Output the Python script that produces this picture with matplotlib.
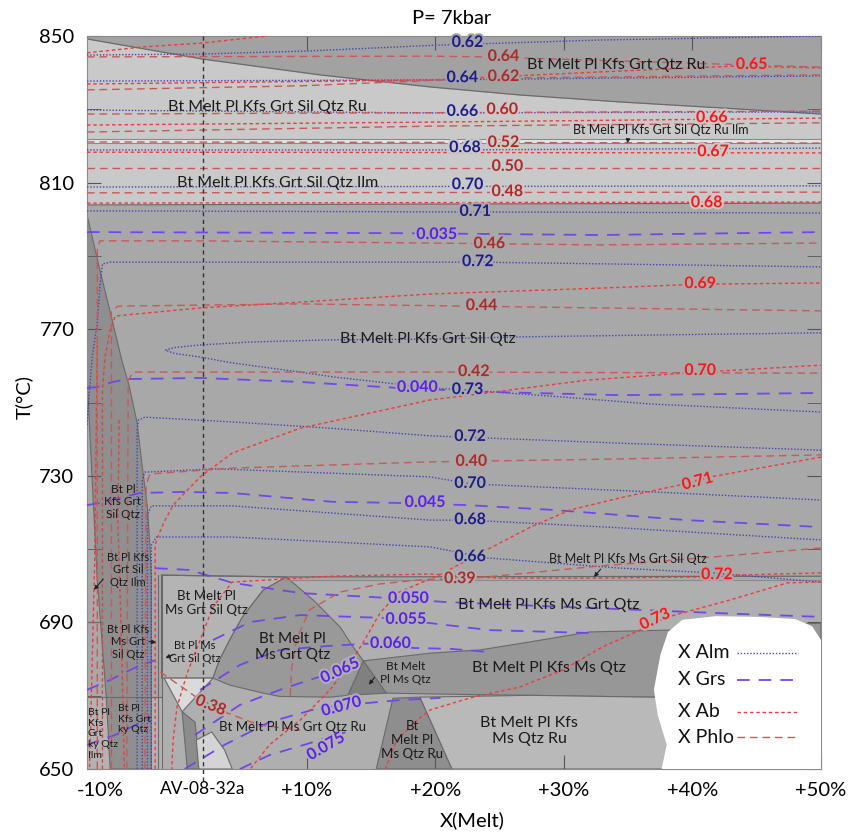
import matplotlib.pyplot as plt
import matplotlib.patheffects as pe
import numpy as np

plt.rcParams['font.family'] = ['Lato', 'DejaVu Sans']

# axis values (x = melt %, T in degC)
T_ticks = [650, 690, 730, 770, 810, 850]
T_minor = [670, 710, 750, 790, 830]
melt_ticks = [10, 20, 30, 40, 50]
melt_labels = ['+10%', '+20%', '+30%', '+40%', '+50%']
extra_ticks = [-6.1, 1.9]
extra_labels = ['-10%', 'AV-08-32a']
sample_x = 1.9

# field boundaries
top_bnd_x = [-7.1, 1.9, 11.0, 19.6, 26.6, 34.4, 42.1, 50.0]
top_bnd_T = [849.2, 843.7, 839.4, 836.1, 833.9, 832.0, 830.4, 828.7]
ru_ilm_T = [821.9, 820.7]
ilm_bottom_T = [803.9, 804.4]

lens_x = [-7.1, -6.1, -5.2, -4.4, -3.8, -3.2, -2.8, -2.4, -2.2, -2.1, -2.1, -2.1, -5.3, -5.6, -6.3, -6.7, -7.0, -7.1]
lens_T = [801.2, 786.2, 773.3, 761.6, 754.2, 744.4, 732.4, 721.5, 710.6, 702.9, 669.6, 650, 650, 669.6, 701.6, 728.9, 750.7, 756.1]
ms_sil_x = [-1.3, 8.4, 6.6, 5.0, 4.0, 3.2, 2.7, -1.3]
ms_sil_T = [702.9, 702.4, 698.8, 691.5, 685.2, 679.7, 674.8, 674.8]
dome_x = [8.4, 6.6, 5.0, 4.0, 3.2, 2.7, 4.0, 6.6, 7.9, 11.8, 13.2, 14.4, 13.6, 12.6, 10.5]
dome_T = [702.4, 698.8, 691.5, 685.2, 679.7, 674.8, 672.9, 670.7, 669.8, 669.6, 670.1, 679.5, 683.3, 688.7, 696.1]
tri_x = [14.4, 16.2, 13.2]
tri_T = [679.5, 670.7, 670.1]
msq_x = [14.4, 19.6, 23.5, 27.4, 32.0, 38.2, 50.0, 50.0, 36.7, 27.4, 21.1, 16.2]
msq_T = [679.5, 681.6, 682.5, 684.7, 687.4, 687.9, 689.8, 670.1, 669.6, 670.1, 670.4, 670.7]
msqru_x = [16.7, 18.8, 21.3, 15.4]
msqru_T = [669.3, 669.6, 650, 650]
kmsqru_x = [18.8, 27.4, 36.7, 50, 50, 21.3]
kmsqru_T = [669.6, 670.1, 669.6, 670.1, 650, 650]
light_tri_x = [-1.1, 2.7, 0.3]
light_tri_T = [674.8, 674.8, 665.6]
sliver_x = [0.3, 1.3, 1.7, 0.7]
sliver_T = [665.6, 662.8, 650, 650]
light_bot_x = [1.4, 2.6, 3.6, 4.2, 1.6]
light_bot_T = [657.9, 660.1, 655.2, 650, 650]
legend_x = [37.6, 38.0, 37.3, 37.0, 37.5, 38.1, 39.2, 41.8, 45.2, 48.0, 49.3, 50.0, 50.0]
legend_T = [650, 656.6, 664.7, 671.6, 681.1, 687.4, 690.7, 691.7, 691.5, 690.9, 689.0, 685.2, 650]

# isopleths: X Alm
alm_lines = [
    ([-7.1, 1.9, 10.0, 20.1, 32.8, 50.0], [844.8, 845.1, 845.9, 847.5, 848.9, 850.0]),
    ([-7.1, 19.6, 50.0], [837.7, 838.0, 839.1]),
    ([-7.1, 19.6, 50.0], [829.8, 829.0, 829.3]),
    ([-7.1, 19.6, 50.0], [818.9, 818.9, 819.4]),
    ([-7.1, 50.0], [808.8, 809.1]),
    ([-7.1, 50.0], [802.3, 801.7]),
    ([-7.1, -6.9, -6.7, -6.3, -6.1, -5.9, -5.3, 9.5, 23.3, 50.0],
     [743.9, 753.4, 762.4, 771.7, 781.5, 787.8, 788.3, 788.3, 788.3, 787.0]),
    ([50.0, 36.7, 26.6, 19.6, 12.0, 5.6, 1.7, -0.3, -1.0, -0.3, 1.7, 4.2, 9.5, 12.0, 19.6, 22.5, 29.9, 36.7, 50.0],
     [769.0, 768.4, 767.9, 767.3, 767.1, 766.5, 765.7, 765.0, 764.3, 763.4, 762.4, 760.8, 758.3, 757.0, 754.0, 753.4, 751.5, 749.6, 747.4]),
    ([-3.2, -3.2, -3.1, -2.6, 4.2, 11.8, 19.6, 34.4, 50.0], [650, 742.5, 745.2, 746.0, 744.7, 743.0, 740.9, 738.9, 737.0]),
    ([-2.8, -2.8, -2.6, 3.0, 19.6, 22.7, 36.9, 50.0], [650, 728.9, 731.0, 731.9, 729.7, 727.8, 725.6, 723.4]),
    ([-2.4, -2.4, -2.1, 4.2, 19.6, 22.7, 34.4, 50.0], [650, 719.3, 721.8, 721.8, 717.9, 717.9, 715.8, 712.5]),
    ([-2.1, -2.1, -1.7, 4.2, 19.6, 24.0, 34.4, 41.6, 50.0], [650, 711.1, 713.3, 713.3, 710.6, 707.6, 704.8, 703.5, 701.0]),
]
alm_vals = ['0.62', '0.64', '0.66', '0.68', '0.70', '0.71', '0.72', '0.73', '0.72', '0.70', '0.68', '0.66']
alm_lx = [22.5, 22.1, 22.1, 22.3, 22.5, 23.1, 23.3, 22.5, 22.7, 22.7, 22.7, 22.7]
alm_lT = [848.1, 838.5, 829.3, 819.4, 809.3, 802.0, 788.3, 753.4, 740.6, 727.8, 717.9, 707.8]

# X Grs
grs_lines = [
    ([-7.1, 17.2, 32.8, 50], [796.5, 796.2, 795.7, 796.5]),
    ([-7.1, -6.3, -5.1, -3.9, 1.7, 9.5, 17.0, 24.0, 34.4, 50], [754.0, 754.2, 755.6, 756.4, 756.7, 755.6, 754.0, 752.9, 752.0, 752.6]),
    ([-7.1, -6.1, -3.0, 0.4, 4.2, 12.0, 17.0, 22.5, 29.1, 39.6, 50],
     [722.0, 722.6, 725.3, 725.6, 725.3, 722.9, 722.6, 722.0, 720.7, 717.9, 716.0]),
    ([-1.8, 0.9, 4.2, 9.5, 16.2, 20.6, 28.1, 35.9, 43.7, 50], [704.8, 704.3, 700.8, 698.0, 696.7, 695.6, 694.5, 693.4, 692.3, 691.5]),
    ([2.7, 5.6, 9.5, 16.1, 20.1, 24.2, 32.0], [685.2, 690.1, 692.0, 691.2, 689.6, 687.9, 687.1]),
    ([1.7, 4.8, 7.9, 11.8, 14.7, 18.4, 21.1, 23.9], [671.6, 678.4, 682.5, 683.6, 684.2, 683.0, 682.8, 682.0]),
    ([1.3, 4.8, 8.3, 11.2, 14.0], [659.3, 667.5, 672.1, 675.4, 679.5]),
    ([0.5, 3.6, 7.1, 11.0, 14.7, 17.2, 20.4], [650, 656.6, 662.8, 666.7, 668.0, 668.8, 669.4]),
    ([4.8, 7.1, 9.8, 13.0], [650, 653.8, 656.6, 660.0]),
    ([-7.1, -5.3, -3.4, -1.8], [671.6, 674.3, 677.6, 679.7]),
    ([-7.1, -4.9, -2.2], [656.6, 659.3, 663.9]),
]
grs_vals = ['0.035', '0.040', '0.045', '0.050', '0.055', '0.060', '0.065', '0.070', '0.075']
grs_lx = [20.1, 18.6, 19.2, 17.9, 17.7, 16.5, 12.6, 12.7, 11.5]
grs_lT = [795.7, 754.0, 722.6, 696.4, 690.7, 684.1, 676.7, 666.9, 656.0]
grs_rot = [0, 0, 0, 0, 0, 0, 25, 15, 30]

# X Ab
ab_lines = [
    ([-7.1, -2.8, 1.9, 6.9], [845.4, 847.0, 848.1, 850]),
    ([-7.1, 19.6, 32.8, 43.3, 50], [836.9, 838.0, 840.2, 841.8, 841.3]),
    ([-7.1, 19.6, 50], [825.7, 826.5, 827.6]),
    ([-7.1, 50], [818.3, 818.1]),
    ([-7.1, 50], [804.4, 804.7]),
    ([-5.9, -5.9, -5.7, -5.3, -4.9, 1.7, 9.5, 19.6, 32.8, 40.6, 50],
     [650, 753.4, 762.4, 769.8, 773.6, 775.8, 777.4, 779.6, 781.2, 782.3, 782.6]),
    ([-1.8, -1.8, -1.6, -1.1, -0.4, 1.7, 4.2, 9.5, 19.6, 24.0, 31.8, 39.3, 50],
     [650, 711.1, 713.3, 717.4, 722.0, 729.7, 736.2, 743.0, 750.7, 752.6, 756.1, 758.0, 760.2]),
    ([50, 41.4, 39.0, 34.4, 30.5, 27.4, 23.5, 20.3, 17.2, 15.7, 14.5, 13.3, 11.8, 9.5, 7.1, 5.6],
     [735.1, 729.7, 727.5, 724.0, 720.7, 716.0, 708.9, 702.9, 698.3, 692.6, 685.2, 678.4, 671.6, 663.4, 656.6, 650]),
    ([50, 43.2, 40.6, 32.8, 25.0, 19.6, 11.8, 4.2, 2.7, 1.7, 0.7, -0.1, -0.4, -0.5],
     [703.5, 702.9, 702.4, 702.1, 702.1, 703.2, 702.6, 701.0, 694.2, 685.2, 676.2, 666.9, 657.9, 650]),
    ([50, 47.4, 42.9, 38.1, 35.9, 33.0, 29.9, 26.6, 22.7, 19.6, 18.6, 17.0, 16.1],
     [701.0, 700.8, 696.1, 691.5, 687.9, 683.3, 677.0, 672.4, 669.4, 666.1, 663.4, 657.9, 650]),
    ([-6.3, -6.4, -6.5, -6.9], [765.7, 737.0, 707.0, 650]),
    ([-4.6, -4.7, -4.4, -4.2], [745.2, 717.9, 682.5, 650]),
]
ab_vals = ['0.65', '0.66', '0.67', '0.68', '0.69', '0.70', '0.71', '0.72', '0.73']
ab_lx = [44.6, 41.5, 41.6, 41.1, 40.6, 40.6, 40.4, 41.9, 37.1]
ab_lT = [842.1, 827.6, 818.3, 804.4, 782.3, 758.6, 728.3, 702.9, 690.7]
ab_rot = [0, 0, 0, 0, 0, 0, 15, 0, 25]

# X Phlo
phlo_lines = [
    ([-7.1, 19.6, 24.0, 26.6, 50], [844.3, 844.5, 844.3, 844.0, 841.5]),
    ([-7.1, 9.5, 24.0, 50], [835.3, 836.4, 838.5, 839.4]),
    ([-7.1, 50], [828.7, 829.5]),
    ([-7.1, 19.6, 50], [823.8, 825.4, 826.3]),
    ([-7.1, 50], [821.1, 820.8]),
    ([-7.1, 50], [814.0, 814.0]),
    ([-7.1, 50], [807.2, 807.4]),
    ([-6.3, -6.3, -6.1, 1.7, 19.6, 32.8, 50], [650, 791.6, 794.1, 794.1, 793.5, 793.0, 793.5]),
    ([-5.2, -5.2, -4.7, 9.5, 22.5, 32.8, 50], [650, 774.7, 776.3, 776.9, 776.3, 775.8, 775.0]),
    ([-4.0, -3.9, -3.5, 19.6, 50], [650, 756.1, 758.3, 758.3, 758.0]),
    ([-2.6, -2.5, -2.2, 4.2, 19.6, 34.4, 50], [650, 727.5, 730.5, 732.1, 733.8, 734.6, 735.7]),
    ([50, 41.4, 32.8, 23.1, 18.8, 15.7, 12.6, 10.2, 9.2, 8.8, 8.7],
     [710.3, 707.8, 705.4, 702.1, 701.6, 700.5, 698.3, 693.4, 685.2, 677.0, 668.8]),
    ([-1.4, 1.4, 3.8, 6.3, 9.5], [676.5, 669.6, 665.3, 662.0, 660.6]),
]
phlo_vals = ['0.64', '0.62', '0.60', '0.52', '0.50', '0.48', '0.46', '0.44', '0.42', '0.40', '0.39', '0.38']
phlo_lx = [25.3, 25.3, 25.2, 25.3, 25.6, 25.6, 24.2, 23.6, 23.0, 22.8, 21.9, 2.5]
phlo_lT = [844.3, 838.8, 829.8, 820.8, 814.3, 807.4, 793.2, 776.3, 758.3, 733.8, 701.8, 667.2]
phlo_rot = [0, 0, 0, 0, 0, 0, 0, 0, 0, 0, 0, -22]

# field names
field_names = ['Bt Melt Pl Kfs Grt Qtz Ru', 'Bt Melt Pl Kfs Grt Sil Qtz Ru', 'Bt Melt Pl Kfs Grt Sil Qtz Ru Ilm',
               'Bt Melt Pl Kfs Grt Sil Qtz Ilm', 'Bt Melt Pl Kfs Grt Sil Qtz', 'Bt Pl\nKfs Grt\nSil Qtz',
               'Bt Pl Kfs\nGrt Sil\nQtz Ilm', 'Bt Pl Kfs\nMs Grt\nSil Qtz', 'Bt Pl Ms\nGrt Sil Qtz',
               'Bt Melt Pl\nMs Grt Sil Qtz', 'Bt Melt Pl\nMs Grt Qtz', 'Bt Melt\nPl Ms Qtz',
               'Bt Melt Pl Ms Grt Qtz Ru', 'Bt\nMelt Pl\nMs Qtz Ru', 'Bt Melt Pl Kfs Ms Grt Sil Qtz',
               'Bt Melt Pl Kfs Ms Grt Qtz', 'Bt Melt Pl Kfs Ms Qtz', 'Bt Melt Pl Kfs\nMs Qtz Ru']
field_x = [34.1, 6.9, 37.5, 7.7, 19.4, -4.3, -3.9, -3.9, 1.3, 2.2, 8.9, 17.7, 8.9, 18.2, 35.0, 28.8, 28.8, 27.3]
field_T = [842.1, 830.6, 824.4, 809.9, 767.3, 722.9, 704.3, 684.7, 681.9, 695.3, 683.3, 676.2, 661.5, 657.9, 707.3, 694.7, 677.6, 660.4]
field_size = [11.5, 11.5, 9, 11.5, 11.5, 8.5, 8, 8, 8, 9.5, 11, 8.5, 9.5, 9.5, 9, 11.5, 11.5, 11.5]
left_names = ['Bt Pl\nKfs\nGrt\nky Qtz\nIlm', 'Bt Pl\nKfs Grt\nky Qtz']
left_x = [-7.05, -4.7]
left_T = [659.6, 663.6]
arrow_tail = [(35.0, 822.2), (-5.7, 702.4), (-2.5, 684.9), (-0.1, 681.6), (15.4, 675.6), (33.0, 705.1)]
arrow_head = [(34.9, 820.0), (-6.7, 698.3), (-1.5, 684.4), (-1.2, 680.0), (14.7, 672.4), (32.2, 701.8)]

legend_names = ['X Alm', 'X Grs', 'X Ab', 'X Phlo']
legend_T_pos = [681.7, 674.3, 665.6, 658.7]

C_ALM, C_GRS, C_AB, C_PHLO = '#4545b5', '#7048e6', '#f03a3a', '#c65a5a'
L_ALM, L_GRS, L_AB, L_PHLO = '#1c1c8c', '#5a20ee', '#ff1515', '#b02828'
LS_ALM, LS_GRS, LS_AB, LS_PHLO = (0, (1, 1.3)), (0, (7, 5)), (0, (2.5, 2)), (0, (5.5, 3.5))

fig = plt.figure(figsize=(8.53, 8.33), dpi=100)
ax = fig.add_axes([87 / 853, 64 / 833, 734 / 853, 733 / 833])
ax.set_xlim(-7.1, 50)
ax.set_ylim(650, 850)
ax.set_facecolor('#a8a8a8')

edge = '#6a6a6a'
# upper fields
ax.fill_between(top_bnd_x, top_bnd_T, 850, color='#a2a2a2', lw=0, zorder=1)
ax.fill_between(top_bnd_x, ru_ilm_T[0], top_bnd_T, color='#c9c9c9', lw=0, zorder=1)
ax.fill_between([-7.1, 50], ru_ilm_T[1], ru_ilm_T[0], color='#e6e6e6', lw=0, zorder=1)
ax.fill_between([-7.1, 50], ilm_bottom_T, ru_ilm_T[1], color='#c9c9c9', lw=0, zorder=1)
ax.plot(top_bnd_x, top_bnd_T, color=edge, lw=0.9, zorder=2)
for t in ru_ilm_T:
    ax.plot([-7.1, 50], [t, t], color='#8a8a8a', lw=0.8, zorder=2)
ax.plot([-7.1, 50], ilm_bottom_T, color=edge, lw=0.9, zorder=2)

# lower fields
ax.fill([-1.3, 50, 50, -1.3], [701.6, 701.6, 650, 650], color='#afafaf', lw=0, zorder=1)
ax.fill([-7.1, -1.3, -1.3, -7.1], [669.6, 669.6, 650, 650], color='#b3b3b3', lw=0, zorder=1)
polys = [(lens_x, lens_T, '#8f8f8f'), (ms_sil_x, ms_sil_T, '#b4b4b4'), (dome_x, dome_T, '#999999'),
         (tri_x, tri_T, '#808080'), (msq_x, msq_T, '#979797'), (msqru_x, msqru_T, '#8e8e8e'),
         (kmsqru_x, kmsqru_T, '#b9b9b9'), (light_tri_x, light_tri_T, '#dadada'),
         (sliver_x, sliver_T, '#8c8c8c'), (light_bot_x, light_bot_T, '#d4d4d4')]
for xs, ts, c in polys:
    ax.fill(xs, ts, facecolor=c, edgecolor=edge, lw=0.8, zorder=1.5)
ax.plot([-1.3, 8.4, 50], [702.9, 702.4, 702.6], color=edge, lw=0.9, zorder=2)
ax.plot([8.4, 50], [701.6, 701.6], color='#8a8a8a', lw=0.8, zorder=2)
ax.plot([-1.3, -1.3], [702.9, 650], color=edge, lw=0.8, zorder=2)
ax.plot([-1.6, -1.6], [702.9, 650], color=edge, lw=0.8, zorder=2)
ax.plot([-7.1, -1.3], [669.6, 669.6], color=edge, lw=0.8, zorder=2)
ax.plot([-7.1, -6.1], [690.1, 690.1], color=edge, lw=0.8, zorder=2)

# isopleths
for lines, c, ls, lw in [(alm_lines, C_ALM, LS_ALM, 1.0), (grs_lines, C_GRS, LS_GRS, 1.3),
                         (ab_lines, C_AB, LS_AB, 1.0), (phlo_lines, C_PHLO, LS_PHLO, 1.0)]:
    for xs, ts in lines:
        ax.plot(xs, ts, color=c, ls=ls, lw=lw, zorder=3)

ax.plot([sample_x, sample_x], [850, 646.2], color='#333333', ls=(0, (3, 2.5)), lw=1, zorder=4, clip_on=False)


def bg_at(x, t):
    if t > np.interp(x, top_bnd_x, top_bnd_T):
        return '#a2a2a2'
    if t > 804:
        return '#c9c9c9'
    if t > 702.5:
        return '#a8a8a8'
    return '#afafaf'


def put(x, t, s, color, rot=0):
    ax.text(x, t, s, color=color, fontsize=11.5, fontweight='bold', ha='center', va='center',
            rotation=rot, zorder=5, path_effects=[pe.withStroke(linewidth=3, foreground=bg_at(x, t))])


for s, x, t in zip(alm_vals, alm_lx, alm_lT):
    put(x, t, s, L_ALM)
for s, x, t, r in zip(grs_vals, grs_lx, grs_lT, grs_rot):
    put(x, t, s, L_GRS, r)
for s, x, t, r in zip(ab_vals, ab_lx, ab_lT, ab_rot):
    put(x, t, s, L_AB, r)
for s, x, t, r in zip(phlo_vals, phlo_lx, phlo_lT, phlo_rot):
    put(x, t, s, L_PHLO, r)

for s, x, t, fs in zip(field_names, field_x, field_T, field_size):
    ax.text(x, t, s, fontsize=fs, color='#1a1a1a', ha='center', va='center', linespacing=1.2, zorder=5)
for s, x, t in zip(left_names, left_x, left_T):
    ax.text(x, t, s, fontsize=7.5, color='#1a1a1a', ha='left', va='center', linespacing=1.25, zorder=5)
for a, b in zip(arrow_tail, arrow_head):
    ax.annotate('', xy=b, xytext=a, zorder=5,
                arrowprops=dict(arrowstyle='-|>', color='#222222', lw=0.8, mutation_scale=6))

# legend
ax.fill(legend_x, legend_T, facecolor='white', edgecolor='none', zorder=6)
for s, t, c, ls, lw in zip(legend_names, legend_T_pos, [C_ALM, C_GRS, C_AB, C_PHLO],
                           [LS_ALM, LS_GRS, LS_AB, LS_PHLO], [1.0, 1.3, 1.0, 1.0]):
    ax.text(38.9, t, s, fontsize=14, color='#111111', ha='left', va='center', zorder=7)
    ax.plot([43.5, 48.2], [t, t], color=c, ls=ls, lw=lw, zorder=7)

# ticks
ax.set_xticks(melt_ticks, melt_labels)
ax.set_xticks(extra_ticks, extra_labels, minor=True)
ax.tick_params(axis='x', which='major', direction='in', length=10, top=True, color='#555555',
               labelsize=14.5, pad=9)
ax.tick_params(axis='x', which='minor', length=0, labelsize=14.5, pad=9)
ax.get_xticklabels(minor=True)[1].set_fontsize(12.5)
ax.set_yticks(T_ticks, [str(t) for t in T_ticks])
ax.set_yticks(T_minor, minor=True)
ax.tick_params(axis='y', which='both', direction='in', length=10, right=True, color='#555555',
               labelsize=14.5, pad=9)
for sp in ax.spines.values():
    sp.set_color('#8a8a8a')

fig.text(452 / 853, 1 - 18 / 833, 'P= 7kbar', fontsize=14.5, ha='center', va='center')
fig.text(24 / 853, 1 - 397 / 833, 'T(°C)', fontsize=14.5, ha='center', va='center', rotation=90)
fig.text(472 / 853, 1 - 820 / 833, 'X(Melt)', fontsize=14.5, ha='center', va='center')

fig.savefig('out.png', dpi=100)
